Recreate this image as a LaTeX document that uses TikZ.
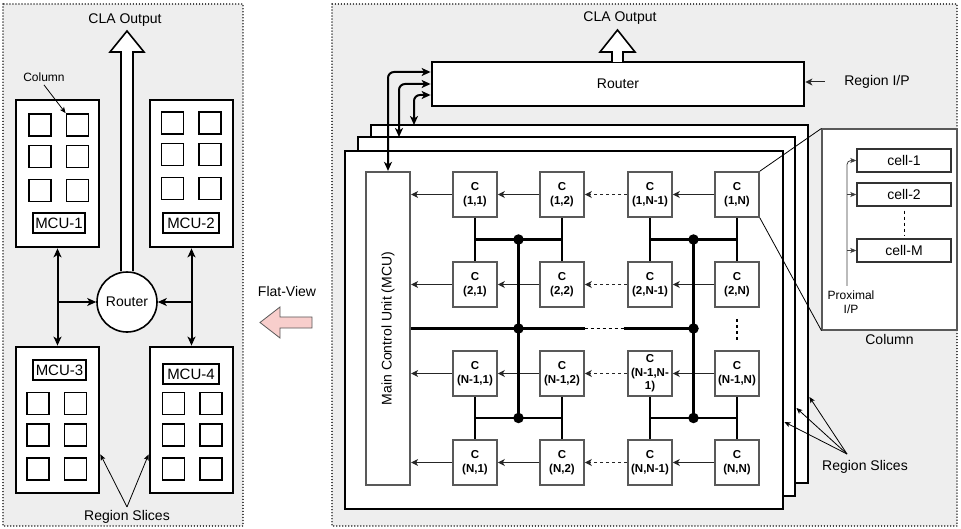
\documentclass[tikz,border=0pt]{standalone}
\usepackage{fontspec}
\setmainfont{Liberation Sans}
\usetikzlibrary{arrows.meta,positioning,calc}
\definecolor{panelbg}{HTML}{EEEEEE}
\definecolor{cellline}{HTML}{595959}
\definecolor{flatpink}{HTML}{F8CECC}

\begin{document}
\begin{tikzpicture}[x=1pt,y=-1pt,font=\fontsize{14}{16}\selectfont,
  panel/.style={fill=panelbg,draw=black!80,line width=1.5pt,dash pattern=on 0.01pt off 3pt,line cap=round},
  slicebox/.style={draw,fill=white,line width=2.8pt,inner sep=0pt},
  colsq/.style={draw,line width=1.8pt,minimum size=22pt,inner sep=0pt},
  mcutag/.style={draw,fill=white,line width=1.8pt,minimum height=20pt,inner sep=0pt,font=\fontsize{15}{17}\selectfont},
  cellbox/.style={draw=cellline,fill=white,line width=1.6pt,minimum width=44pt,minimum height=45pt,inner sep=1pt,align=center,font=\fontsize{11.5}{13.5}\selectfont\bfseries},
  flow/.style={draw=black!85,line width=1pt,-{Stealth[length=7pt,width=7pt,inset=2pt]}},
  thinflow/.style={line width=0.8pt,-{Stealth[length=6pt,width=5pt,inset=1.5pt]}},
  push/.style={line width=2pt,-{Stealth[length=9pt,width=8pt,inset=2.5pt]}},
  link/.style={line width=2pt,{Stealth[length=9pt,width=8pt,inset=2.5pt]}-{Stealth[length=9pt,width=8pt,inset=2.5pt]}},
  bus/.style={line width=2.2pt},
  joint/.style={circle,fill,inner sep=0pt,minimum size=10.5pt},
  hollow/.style={draw,fill=white,line width=1.6pt,line join=miter}
]
  \useasboundingbox (0,0) rectangle (961,529);

  % flat view
  \draw[panel] (3,4) rectangle (243,526);
  \node (lcla) at (125,20) {CLA Output};
  \node[draw,circle,fill=white,line width=1.6pt,minimum size=60pt,inner sep=0pt] (lrouter) at (127,302) {Router};
  \draw[hollow] ($(lrouter.north)+(-6,0)$) -- (121,52) -- (110,52) -- (127,31) -- (144,52) -- (133,52) -- ($(lrouter.north)+(6,0)$);

  \node[slicebox,minimum width=83pt,minimum height=147pt] (mcu1) at (57.5,173.5) {};
  \node[slicebox,minimum width=83pt,minimum height=147pt] (mcu2) at (191.5,173.5) {};
  \node[slicebox,minimum width=83pt,minimum height=146pt] (mcu3) at (57.5,420) {};
  \node[slicebox,minimum width=83pt,minimum height=146pt] (mcu4) at (191.5,420) {};
  \node[mcutag,minimum width=52pt] (tag1) at (59,223) {MCU-1};
  \node[mcutag,minimum width=56pt] (tag2) at (191,223) {MCU-2};
  \node[mcutag,minimum width=53pt] (tag3) at (59.5,370) {MCU-3};
  \node[mcutag,minimum width=56pt] (tag4) at (191,374) {MCU-4};
  \foreach \m/\bx/\by in {1/40/125,2/172.5/123,3/38/403.5,4/173.5/403.5}
    \foreach \c/\dx in {1/0,2/37.5}
      \foreach \r/\dy in {1/0,2/31.5,3/65.5}
        \node[colsq] (sq\m\c\r) at (\bx+\dx,\by+\dy) {};

  \node[font=\fontsize{12}{14}\selectfont] (colnote) at (44,77) {Column};
  \draw[thinflow] (colnote.south) -- (sq121.north west);

  \draw[link] (mcu1.south) -- (mcu3.north);
  \draw[link] (mcu2.south) -- (mcu4.north);
  \draw[push] (mcu1.south |- lrouter.west) -- (lrouter.west);
  \draw[push] (mcu2.south |- lrouter.east) -- (lrouter.east);

  \node (lslices) at (127,517) {Region Slices};
  \draw[thinflow] (lslices.north) -- ($(mcu3.south east)+(0,-40)$);
  \draw[thinflow] (lslices.north) -- ($(mcu4.south west)+(0,-40)$);

  \node (flatlbl) at (287,291) {Flat-View};
  \draw[fill=flatpink,draw=black!65,line width=0.8pt] (312,317) -- (280,317) -- (280,307) -- (260,322.5) -- (280,338) -- (280,328) -- (312,328) -- cycle;

  % region in layers
  \draw[panel] (332,4) rectangle (957,526);
  \node[slicebox,minimum width=437pt,minimum height=358pt] (slBack) at (589.5,304) {};
  \node[slicebox,minimum width=437pt,minimum height=359pt] (slMid) at (576.5,316.5) {};
  \node[slicebox,minimum width=438pt,minimum height=358pt] (slFront) at (564,330) {};

  \node[slicebox,minimum width=372pt,minimum height=44pt] (rrouter) at (618,84) {Router};
  \node (rcla) at (620,18) {CLA Output};
  \draw[hollow] (612,62) -- (612,52) -- (600,52) -- (617.5,30) -- (635,52) -- (623,52) -- (623,62);
  \node (regip) at (877,82) {Region I/P};
  \draw[flow] ([xshift=-16pt]regip.west) -- (rrouter.east |- regip.west);

  \node[draw=cellline,fill=white,line width=2.2pt,minimum width=44pt,minimum height=313pt,inner sep=0pt] (mcu) at (388,328.5) {};
  \node[rotate=90] (mcutext) at (mcu.center) {Main Control Unit (MCU)};

  \coordinate (midtop) at (399,137);
  \coordinate (backtop) at (414,125);
  \draw[link,rounded corners=6pt] (mcu.north) |- ([yshift=12pt]rrouter.west);
  \draw[link,rounded corners=6pt] (midtop) |- (rrouter.west);
  \draw[link,rounded corners=6pt] (backtop) |- ([yshift=-11pt]rrouter.west);

  \foreach \r/\y/\la/\lb/\lc/\ld in {
    1/194.5/{(1,1)}/{(1,2)}/{(1,N-1)}/{(1,N)},
    2/284.5/{(2,1)}/{(2,2)}/{(2,N-1)}/{(2,N)},
    3/373.5/{(N-1,1)}/{(N-1,2)}/{(N-1,N-\\1)}/{(N-1,N)},
    4/462.5/{(N,1)}/{(N,2)}/{(N,N-1)}/{(N,N)}}{
    \node[cellbox] (c\r1) at (475,\y) {C\\\la};
    \node[cellbox] (c\r2) at (562,\y) {C\\\lb};
    \node[cellbox] (c\r3) at (650,\y) {C\\\lc};
    \node[cellbox] (c\r4) at (737,\y) {C\\\ld};
    \draw[flow] (c\r4) -- (c\r3);
    \draw[flow,dashed] (c\r3) -- (c\r2);
    \draw[flow] (c\r2) -- (c\r1);
    \draw[flow] (c\r1) -- (c\r1 -| mcu.east);
  }

  \foreach \ra/\rb in {1/2,3/4}{
    \foreach \k in {1,2,3,4}
      \draw[bus] (c\ra\k) -- (c\rb\k);
    \draw[bus] ($(c\ra1)!0.5!(c\rb1)$) -- ($(c\ra2)!0.5!(c\rb2)$);
    \draw[bus] ($(c\ra3)!0.5!(c\rb3)$) -- ($(c\ra4)!0.5!(c\rb4)$);
  }
  \coordinate (jA) at ($(c11)!0.5!(c22)$);
  \coordinate (jB) at ($(c13)!0.5!(c24)$);
  \coordinate (jC) at ($(c31)!0.5!(c42)$);
  \coordinate (jD) at ($(c33)!0.5!(c44)$);
  \coordinate (jE) at (jA |- mcu.east);
  \coordinate (jF) at (jB |- mcu.east);
  \draw[bus] (jA) -- (jC);
  \draw[bus] (jB) -- (jD);
  \draw[bus] (mcu.east) -- ($(jE)+(66,0)$);
  \draw[line width=1.1pt,dashed] ($(jE)+(66,0)$) -- ($(jF)+(-70,0)$);
  \draw[bus] ($(jF)+(-70,0)$) -- (jF);
  \foreach \j in {jA,jB,jC,jD,jE,jF}
    \node[joint] (dot\j) at (\j) {};
  \draw[line width=1.1pt,dashed] ($(c24.south)+(0,11)$) -- ($(c34.north)+(0,-9)$);

  % one column, zoomed
  \node[draw=cellline,fill=white,line width=1.1pt,minimum width=135pt,minimum height=201pt,inner sep=0pt] (colbox) at (889.5,229.5) {};
  \node[below=0pt of colbox] (collbl) {Column};
  \draw[line width=0.8pt] (c14.north east) -- (colbox.north west);
  \draw[line width=0.8pt] (c14.south east) -- (colbox.south west);
  \node[draw=black!80,line width=1.4pt,minimum width=94pt,minimum height=23pt,inner sep=0pt] (cellA) at (904,160.5) {cell-1};
  \node[draw=black!80,line width=1.4pt,minimum width=94pt,minimum height=23pt,inner sep=0pt] (cellB) at (904,194.5) {cell-2};
  \node[draw=black!80,line width=1.4pt,minimum width=94pt,minimum height=23pt,inner sep=0pt] (cellM) at (904,250.5) {cell-M};
  \draw[line width=0.9pt,dashed] ([yshift=-4pt]cellB.south) -- ([yshift=3pt]cellM.north);
  \node[align=center,font=\fontsize{12}{14}\selectfont] (prox) at (851,302) {Proximal\\I/P};
  \coordinate (proxtop) at (847,286);
  \draw[thinflow,draw=black!75,rounded corners=4pt] (proxtop) |- (cellA.west);
  \draw[thinflow,draw=black!75] (proxtop |- cellB.west) -- (cellB.west);
  \draw[thinflow,draw=black!75] (proxtop |- cellM.west) -- (cellM.west);

  \node (rslices) at (865,467) {Region Slices};
  \coordinate (rsl) at (847,454);
  \draw[thinflow] (rsl) -- ($(slFront.east)+(0,92)$);
  \draw[thinflow] (rsl) -- ($(slMid.east)+(0,91.5)$);
  \draw[thinflow] (rsl) -- ($(slBack.east)+(0,93)$);
\end{tikzpicture}
\end{document}
